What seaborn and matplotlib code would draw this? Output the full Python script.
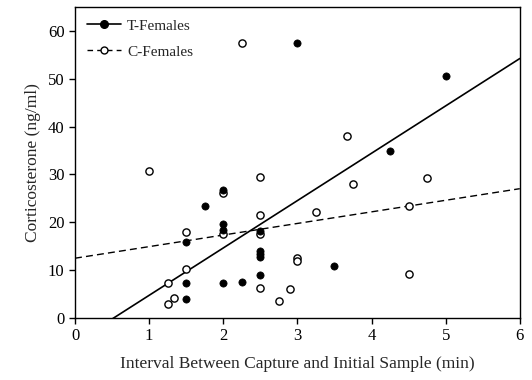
import numpy as np
import pandas as pd
import matplotlib
matplotlib.use("Agg")
import matplotlib.pyplot as plt
from matplotlib.lines import Line2D
import seaborn as sns

# T-Females (filled circles)
t_interval = [1.5, 1.5, 1.5, 1.75, 2.0, 2.0, 2.0, 2.0, 2.25, 2.5, 2.5, 2.5, 2.5, 2.5, 3.0, 3.5, 4.25, 5.0]
t_cort = [15.8, 7.4, 4.0, 23.3, 26.8, 19.6, 18.3, 7.4, 7.5, 18.2, 14.0, 13.3, 12.7, 9.0, 57.4, 10.8, 34.9, 50.6]

# C-Females (open circles)
c_interval = [1.0, 1.25, 1.25, 1.33, 1.5, 1.5, 2.0, 2.0, 2.25, 2.5, 2.5, 2.5, 2.5, 2.75, 2.9,
              3.0, 3.0, 3.25, 3.67, 3.75, 4.5, 4.5, 4.75]
c_cort = [30.7, 7.4, 2.9, 4.1, 18.0, 10.3, 26.1, 17.6, 57.4, 29.5, 21.6, 17.6, 6.2, 3.6, 6.0,
          12.5, 12.0, 22.1, 38.0, 27.9, 23.5, 9.2, 29.3]

# regression lines (intercept, slope)
t_fit = (-5.14, 9.89)
c_fit = (12.5, 2.42)

x_ticks = [0, 1, 2, 3, 4, 5, 6]
y_ticks = [0, 10, 20, 30, 40, 50, 60]

sns.set_style("ticks")
plt.rcParams['font.family'] = ['Liberation Serif', 'DejaVu Serif']

fig = plt.figure(figsize=(5.32, 3.80), dpi=100)
ax = fig.add_axes([0.141, 0.163, 0.836, 0.819])

df_t = pd.DataFrame({"x": t_interval, "y": t_cort})
df_c = pd.DataFrame({"x": c_interval, "y": c_cort})

xl = np.array([0.0, 6.0])
sns.lineplot(x=xl, y=t_fit[0] + t_fit[1] * xl, ax=ax, color="black", lw=1.2, zorder=2)
sns.lineplot(x=xl, y=c_fit[0] + c_fit[1] * xl, ax=ax, color="black", lw=1.0,
             linestyle=(0, (5, 3)), zorder=2)

sns.scatterplot(data=df_c, x="x", y="y", ax=ax, marker="o", s=27, facecolor="white",
                edgecolor="black", linewidth=1.0, zorder=3)
sns.scatterplot(data=df_t, x="x", y="y", ax=ax, marker="o", s=27, color="black",
                edgecolor="black", linewidth=0.5, zorder=4)

ax.set_xlim(0, 6)
ax.set_ylim(0, 65)
ax.set_xticks(x_ticks)
ax.set_yticks(y_ticks)
ax.tick_params(direction="out", length=4, width=1, labelsize=12, colors="black")
for s in ax.spines.values():
    s.set_linewidth(1.0)
    s.set_color("black")

ax.set_xlabel("Interval Between Capture and Initial Sample (min)", fontsize=12.5, labelpad=8)
ax.set_ylabel("Corticosterone (ng/ml)", fontsize=12.5, labelpad=5)

handles = [
    Line2D([], [], color="black", lw=1.2, marker="o", markersize=5.5,
           markerfacecolor="black", markeredgecolor="black"),
    Line2D([], [], color="black", lw=1.0, linestyle=(0, (4, 3)), marker="o", markersize=5,
           markerfacecolor="white", markeredgecolor="black"),
]
ax.legend(handles, ["T-Females", "C-Females"], loc="upper left", frameon=False,
          fontsize=11, handlelength=2.2, handletextpad=0.4, labelspacing=0.8,
          borderaxespad=0.4, bbox_to_anchor=(0.0, 1.0))

fig.savefig("out.png", dpi=100)
